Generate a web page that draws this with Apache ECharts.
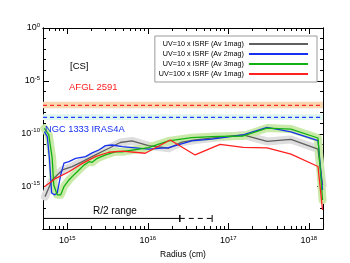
<!DOCTYPE html>
<html><head><meta charset="utf-8">
<script src="https://cdn.jsdelivr.net/npm/echarts@6/dist/echarts.min.js"></script>
<style>html,body{margin:0;padding:0;background:#fff}#c{width:350px;height:263px}</style>
</head><body><div id="c"></div>
<script>
// ---- data ----
const seriesNames = ['UV=10 x ISRF (Av 1mag)', 'UV=10 x ISRF (Av 2mag)', 'UV=10 x ISRF (Av 3mag)', 'UV=100 x ISRF (Av 1mag)'];
const rGray = [5.3e14, 6.5e14, 8.7e14, 1.15e15, 1.54e15, 2.24e15, 3.29e15, 4.55e15, 6.35e15, 1.02e16, 1.81e16, 2.65e16, 3.87e16, 8.6e16, 1.53e17, 3.03e17, 6.0e17, 1.30e18, 1.48e18];
const vGray = [1.15e-16, 4.3e-15, 3.8e-14, 7.8e-14, 2.3e-13, 1.0e-12, 4.3e-12, 1.5e-11, 2.1e-11, 7.6e-12, 4.3e-12, 1.6e-11, 2.6e-11, 5.0e-11, 7.8e-11, 1.9e-11, 2.9e-11, 3.6e-12, 1.45e-15];
const rBlue = [5.2e14, 5.65e14, 6.0e14, 6.4e14, 7.0e14, 7.5e14, 8.3e14, 9.1e14, 1.05e15, 1.27e15, 1.69e15, 2.04e15, 2.47e15, 2.98e15, 3.61e15, 4.81e15, 1.02e16, 1.81e16, 3.52e16, 6.24e16, 1.53e17, 3.03e17, 6.0e17, 1.30e18, 1.48e18];
const vBlue = [1.6e-10, 5.4e-11, 5.1e-13, 2.5e-16, 1.7e-16, 2.5e-16, 1.3e-14, 1.7e-13, 2.3e-13, 4.8e-13, 6.9e-13, 1.55e-12, 2.95e-12, 7.6e-12, 8.7e-12, 6.0e-12, 3.6e-12, 4.9e-12, 2.1e-11, 3.2e-11, 7.8e-11, 4.0e-10, 1.5e-10, 2.3e-11, 4.9e-16];
const rGreen = [5.2e14, 5.9e14, 6.5e14, 6.8e14, 7.5e14, 8.3e14, 9.1e14, 1.05e15, 1.21e15, 1.33e15, 1.61e15, 1.86e15, 2.04e15, 2.36e15, 2.98e15, 3.94e15, 4.81e15, 1.02e16, 1.81e16, 3.52e16, 6.24e16, 1.53e17, 3.03e17, 6.0e17, 1.30e18, 1.48e18];
const vGreen = [3.3e-10, 7.8e-11, 5.1e-13, 1.45e-15, 1.7e-16, 1.7e-16, 1.0e-15, 4.3e-15, 1.3e-14, 2.6e-14, 1.1e-13, 2.3e-13, 2.0e-13, 4.8e-13, 1.0e-12, 2.0e-12, 2.0e-12, 4.9e-12, 2.1e-11, 4.3e-11, 5.4e-11, 6.2e-11, 3.5e-10, 2.8e-10, 4.0e-11, 5.5e-17];
const rRed = [5.2e14, 7.2e14, 1.05e15, 1.54e15, 2.24e15, 3.29e15, 4.81e15, 9.3e15, 1.9e16, 3.87e16, 7.9e16, 1.53e17, 3.03e17, 6.0e17, 1.30e18, 1.48e18];
const vRed = [1.0e-15, 6.2e-15, 2.6e-14, 1.6e-13, 6.9e-13, 1.8e-12, 2.3e-12, 1.45e-12, 2.6e-11, 1.0e-12, 9.8e-12, 5.1e-12, 4.6e-12, 1.2e-12, 8.1e-14, 6.3e-18];
// reference abundances (value, lower, upper)
const afglValue = 4.9e-8, afglRange = [2.6e-8, 1.07e-7];
const ngcValue = 3.6e-9, ngcRange = [2.0e-9, 7.0e-9];
// R/2 range: [start, end of solid, end of dashed], level
const r2Range = [5e14, 2.5e16, 6.3e16];
const r2Level = 1e-18;
// axes
const xMin = 5e14, xMax = 1.5e18, yMin = 1e-19, yMax = 1;
const xMajor = [1e15, 1e16, 1e17, 1e18];
const yMajor = [1, 1e-5, 1e-10, 1e-15];
const xMinor = []; for (let d = 14; d <= 18; d++) for (let m = 2; m <= 9; m++) { const v = m * Math.pow(10, d); if (v > xMin && v < xMax) xMinor.push(v); }
const yMinor = []; for (let d = -19; d <= 0; d++) yMinor.push(Math.pow(10, d));

const pairs = (r, v) => r.map((x, i) => [x, v[i]]);
const FONT = 'Liberation Sans';
const cGray = '#606060', cBlue = '#1530ee', cGreen = '#12b012', cRed = '#ff2020';

const supFmt = v => '{a|10}{b|' + Math.round(Math.log10(v)) + '}';
function xAx(o) {
  return Object.assign({ type: 'log', logBase: 10, min: xMin, max: xMax, position: 'bottom',
    axisLine: { show: true, onZero: false, lineStyle: { color: '#000', width: 1 } },
    splitLine: { show: false }, minorTick: { show: false },
    axisLabel: { show: false, customValues: xMajor },
    axisTick: { show: true, inside: true, length: 6, customValues: xMajor, lineStyle: { color: '#000', width: 1 } } }, o);
}
function yAx(o) {
  return Object.assign({ type: 'log', logBase: 10, min: yMin, max: yMax, position: 'left',
    axisLine: { show: true, onZero: false, lineStyle: { color: '#000', width: 1 } },
    splitLine: { show: false }, minorTick: { show: false },
    axisLabel: { show: false, customValues: yMajor },
    axisTick: { show: true, inside: true, length: 6, customValues: yMajor, lineStyle: { color: '#000', width: 1 } } }, o);
}
const minorTick = vals => ({ show: true, inside: true, length: 3, customValues: vals, lineStyle: { color: '#000', width: 1 } });
const xAxes = [
  xAx({ axisLabel: { show: true, customValues: xMajor, margin: 6, formatter: supFmt,
        rich: { a: { fontSize: 9, fontFamily: FONT, color: '#000', lineHeight: 12 }, b: { fontSize: 6, fontFamily: FONT, color: '#000', verticalAlign: 'top', lineHeight: 7 } } },
        name: 'Radius (cm)', nameLocation: 'middle', nameGap: 20, nameTextStyle: { fontSize: 8.5, fontFamily: FONT, color: '#000' } }),
  xAx({ axisTick: minorTick(xMinor), axisLabel: { show: false, customValues: xMinor } }),
  xAx({ position: 'top' }),
  xAx({ position: 'top', axisTick: minorTick(xMinor), axisLabel: { show: false, customValues: xMinor } })
];
const yAxes = [
  yAx({ axisLabel: { show: true, customValues: yMajor, margin: 3, formatter: supFmt,
        rich: { a: { fontSize: 9, fontFamily: FONT, color: '#000', lineHeight: 12 }, b: { fontSize: 6, fontFamily: FONT, color: '#000', verticalAlign: 'top', lineHeight: 7 } } } }),
  yAx({ axisTick: minorTick(yMinor), axisLabel: { show: false, customValues: yMinor } }),
  yAx({ position: 'right' }),
  yAx({ position: 'right', axisTick: minorTick(yMinor), axisLabel: { show: false, customValues: yMinor } })
];

const band = (name, r, v, color) => ({ name, type: 'line', data: pairs(r, v), symbol: 'none', silent: true, z: 2,
  lineStyle: { color, width: 8, join: 'round', cap: 'round' }, emphasis: { disabled: true } });
const curve = (name, r, v, color) => ({ name, type: 'line', data: pairs(r, v), symbol: 'none', z: 5,
  lineStyle: { color, width: 1.3 }, itemStyle: { color }, emphasis: { disabled: true } });
const hline = (name, v, color) => ({ name, type: 'line', data: [[xMin, v], [xMax, v]], symbol: 'none', silent: true, z: 3,
  lineStyle: { color, width: 1.2, type: [4, 3] }, emphasis: { disabled: true } });

const option = {
  animation: false,
  backgroundColor: '#fff',
  grid: { left: 43, right: 27, top: 28, bottom: 34, containLabel: false, outerBoundsMode: 'none' },
  xAxis: xAxes,
  yAxis: yAxes,
  legend: {
    data: seriesNames, orient: 'vertical', right: 33, top: 36, align: 'right',
    icon: 'rect', itemWidth: 59, itemHeight: 2, itemGap: 2,
    textStyle: { fontSize: 7.2, fontFamily: FONT, color: '#000', lineHeight: 8 },
    borderColor: '#9a9a9a', borderWidth: 1, padding: [4, 9, 4, 4], backgroundColor: '#fff', z: 10,
    selectedMode: false
  },
  graphic: [
    { type: 'text', left: 70, top: 61, style: { text: '[CS]', fontSize: 9.5, fontFamily: FONT, fill: '#000' } },
    { type: 'text', left: 69, top: 82, style: { text: 'AFGL 2591', fontSize: 9.5, fontFamily: FONT, fill: '#ff2020' } },
    { type: 'text', left: 45, top: 125, style: { text: 'NGC 1333 IRAS4A', fontSize: 9.3, fontFamily: FONT, fill: '#1530ee' }, z: 20 },
    { type: 'text', left: 93, top: 206, style: { text: 'R/2 range', fontSize: 10, fontFamily: FONT, fill: '#000' } }
  ],
  series: [
    { name: 'refs', type: 'line', data: [[xMin, afglValue]], symbol: 'none', silent: true, z: 0, lineStyle: { width: 0 },
      markArea: { silent: true, data: [
        [{ yAxis: afglRange[0], itemStyle: { color: '#f8d8b0' } }, { yAxis: afglRange[1] }],
        [{ yAxis: ngcRange[0], itemStyle: { color: '#dff6ee' } }, { yAxis: ngcRange[1] }]
      ] } },
    hline('afgl', afglValue, '#ff2a2a'),
    hline('ngc', ngcValue, '#1f3cff'),
    band('grayBand', rGray, vGray, '#dedede'),
    band('greenBand', rGreen, vGreen, '#c9eaa8'),
    curve(seriesNames[0], rGray, vGray, cGray),
    curve(seriesNames[1], rBlue, vBlue, cBlue),
    curve(seriesNames[2], rGreen, vGreen, cGreen),
    curve(seriesNames[3], rRed, vRed, cRed),
    { name: 'r2solid', type: 'line', z: 5, silent: true, showSymbol: true, symbol: 'rect', symbolSize: [1, 7],
      itemStyle: { color: '#000' }, lineStyle: { color: '#000', width: 1 },
      data: [{ value: [r2Range[0], r2Level], symbol: 'none' }, [r2Range[1], r2Level]] },
    { name: 'r2dash', type: 'line', z: 5, silent: true, showSymbol: true, symbol: 'rect', symbolSize: [1, 7],
      itemStyle: { color: '#000' }, lineStyle: { color: '#000', width: 1, type: [5, 4] },
      data: [[r2Range[1], r2Level], [r2Range[2], r2Level]] }
  ]
};
const chart = echarts.init(document.getElementById('c'), null, { renderer: 'canvas' });
chart.setOption(option);
</script></body></html>
